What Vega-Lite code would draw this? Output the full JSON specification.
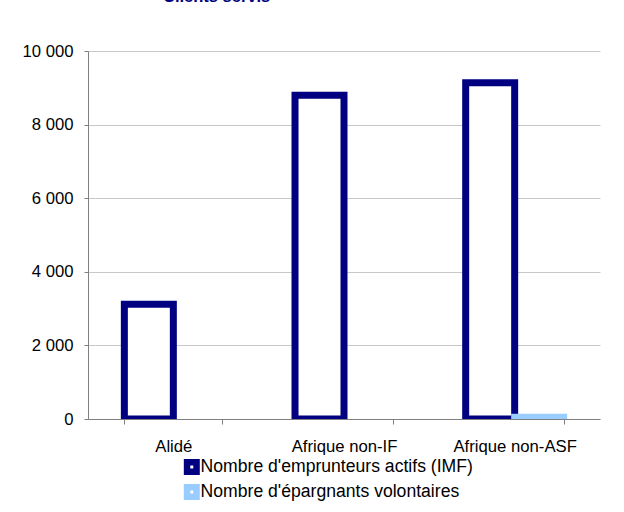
{
  "$schema": "https://vega.github.io/schema/vega-lite/v6.json",
  "width": 512,
  "height": 368,
  "autosize": {"type": "none"},
  "padding": {"left": 88, "top": 51, "right": 24, "bottom": 93},
  "background": "white",
  "title": {
    "text": "Clients servis",
    "anchor": "start",
    "dx": 141,
    "offset": 22,
    "fontSize": 16.5,
    "fontWeight": "bold",
    "color": "#000080",
    "font": "Liberation Sans",
    "baseline": "bottom"
  },
  "config": {"view": {"stroke": null}},
  "data": {
    "values": [
      {"region": "Alidé", "serie": "Nombre d'emprunteurs actifs (IMF)", "valeur": 3120},
      {"region": "Afrique non-IF", "serie": "Nombre d'emprunteurs actifs (IMF)", "valeur": 8800},
      {"region": "Afrique non-ASF", "serie": "Nombre d'emprunteurs actifs (IMF)", "valeur": 9140},
      {"region": "Afrique non-ASF", "serie": "Nombre d'épargnants volontaires", "valeur": 45}
    ]
  },
  "mark": {"type": "bar", "strokeWidth": 7, "fill": "white", "clip": true},
  "encoding": {
    "x": {
      "field": "region",
      "type": "nominal",
      "sort": ["Alidé", "Afrique non-IF", "Afrique non-ASF"],
      "scale": {"paddingInner": 0.426, "paddingOuter": 0.213},
      "axis": {
        "title": null,
        "labelAngle": 0,
        "tickBand": "extent",
        "domainColor": "#808080",
        "tickColor": "#808080",
        "tickSize": 5,
        "labelPadding": 14,
        "labelFontSize": 16.7,
        "labelFont": "Liberation Sans",
        "labelColor": "black",
        "grid": false
      }
    },
    "xOffset": {
      "field": "serie",
      "type": "nominal",
      "sort": ["Nombre d'emprunteurs actifs (IMF)", "Nombre d'épargnants volontaires"],
      "scale": {"paddingInner": 0, "paddingOuter": 0}
    },
    "y": {
      "field": "valeur",
      "type": "quantitative",
      "scale": {"domain": [0, 10000], "nice": false},
      "axis": {
        "title": null,
        "values": [0, 2000, 4000, 6000, 8000, 10000],
        "labelExpr": "replace(format(datum.value, ','), ',', ' ')",
        "grid": true,
        "gridColor": "#c8c8c8",
        "domainColor": "#808080",
        "tickColor": "#808080",
        "tickSize": 4,
        "labelPadding": 11,
        "labelFontSize": 16.7,
        "labelFont": "Liberation Sans",
        "labelColor": "black"
      }
    },
    "stroke": {
      "field": "serie",
      "type": "nominal",
      "sort": ["Nombre d'emprunteurs actifs (IMF)", "Nombre d'épargnants volontaires"],
      "scale": {"range": ["#000080", "#99CCFF"]},
      "legend": {
        "orient": "none",
        "legendX": 95,
        "legendY": 407,
        "title": null,
        "direction": "vertical",
        "symbolType": "square",
        "symbolSize": 90,
        "symbolStrokeWidth": 6.5,
        "symbolFillColor": "white",
        "labelFontSize": 17.6,
        "labelFont": "Liberation Sans",
        "labelColor": "black",
        "labelLimit": 400,
        "clipHeight": 18,
        "rowPadding": 7,
        "padding": 0,
        "labelOffset": 0
      }
    }
  }
}
